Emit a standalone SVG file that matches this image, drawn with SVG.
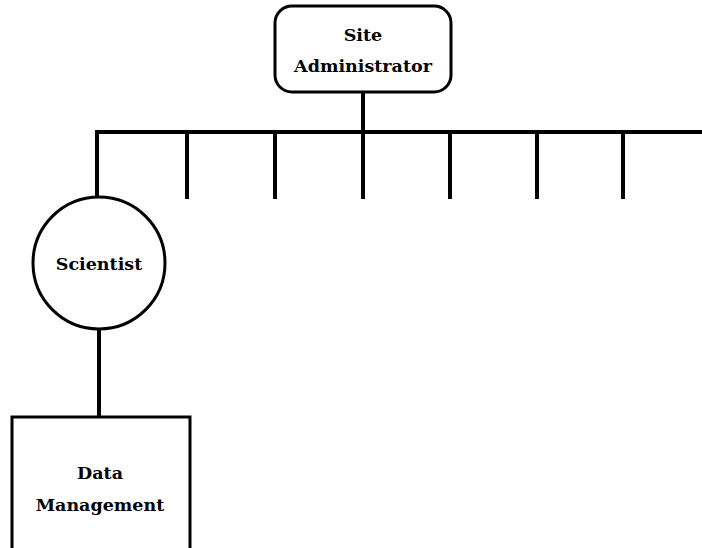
<svg xmlns="http://www.w3.org/2000/svg" width="702" height="548" viewBox="0 0 702 548">
<style>
.node{fill:#fff;stroke:#000;stroke-width:3}
.wire{stroke:#000;stroke-width:4;fill:none;stroke-linecap:butt}
text{font-family:"DejaVu Serif","Liberation Serif",serif;font-weight:bold;font-size:17.5px;text-anchor:middle;fill:#000}
</style>
<rect width="702" height="548" fill="#fff"/>
<g id="connectors">
<path class="wire" d="M363 92 V132"/>
<path class="wire" d="M97 198 V132 H702"/>
<path class="wire" d="M187 132 V199"/>
<path class="wire" d="M275 132 V199"/>
<path class="wire" d="M363 132 V199"/>
<path class="wire" d="M450 132 V199"/>
<path class="wire" d="M537 132 V199"/>
<path class="wire" d="M623 132 V199"/>
<path class="wire" d="M99 329 V417"/>
</g>
<g id="site-administrator">
<rect class="node" x="275" y="6" width="176" height="86" rx="17"/>
<text x="363" y="41">Site</text>
<text x="363" y="72">Administrator</text>
</g>
<g id="scientist">
<circle class="node" cx="99" cy="263" r="66"/>
<text x="99" y="270">Scientist</text>
</g>
<g id="data-management">
<rect class="node" x="12" y="417" width="178" height="140"/>
<text x="100" y="479">Data</text>
<text x="100" y="511">Management</text>
</g>
</svg>
